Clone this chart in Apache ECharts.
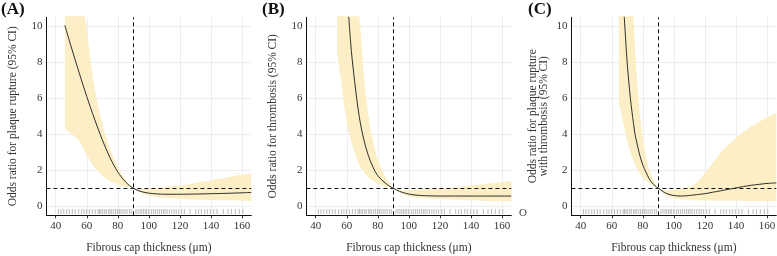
<!DOCTYPE html>
<html><head><meta charset="utf-8">
<script src="https://cdn.jsdelivr.net/npm/echarts@6/dist/echarts.min.js"></script>
<style>html,body{margin:0;padding:0;background:#fff}#c{width:777px;height:256px}</style>
</head><body><div id="c"></div>
<script>
// ---------- data ----------
const panelLabels = ['(A)', '(B)', '(C)'];
const yTitles = [
  'Odds ratio for plaque rupture (95% CI)',
  'Odds ratio for thrombosis (95% CI)',
  'Odds ratio for plaque rupture\nwith thrombosis (95% CI)'
];
const xTitle = 'Fibrous cap thickness (\u03bcm)';
const xTickLabels = [40, 60, 80, 100, 120, 140, 160];
const yTickLabels = [0, 2, 4, 6, 8, 10];
const refX = 90;   // vertical dashed reference
const refY = 1;    // horizontal dashed reference

// Panel A: plaque rupture
const xA   = [45.9, 50, 55, 60, 65, 70, 75, 80, 85, 90, 95, 100, 105, 110, 120, 130, 140, 150, 160, 166];
const fitA = [10.05, 8.85, 7.45, 6.1, 4.85, 3.7, 2.7, 1.9, 1.35, 1.0, 0.82, 0.73, 0.69, 0.67, 0.67, 0.68, 0.7, 0.72, 0.75, 0.77];
const lowA = [4.3, 4.05, 3.65, 2.85, 2.15, 1.7, 1.4, 1.2, 1.07, 1.0, 0.75, 0.6, 0.52, 0.47, 0.42, 0.38, 0.35, 0.33, 0.31, 0.3];
const upA  = [25, 19, 13, 9.8, 6.6, 4.6, 3.2, 2.2, 1.5, 1.0, 0.95, 0.98, 1.02, 1.07, 1.15, 1.3, 1.45, 1.6, 1.75, 1.82];

// Panel B: thrombosis
const xB   = [53.7, 56, 58, 60, 61.2, 63, 65, 68, 71, 74, 77, 80, 84, 87, 90, 94, 98, 102, 106, 110, 120, 130, 140, 150, 160, 166];
const fitB = [null, null, null, null, 10.6, 8.6, 7.0, 5.0, 3.7, 2.8, 2.15, 1.7, 1.35, 1.15, 1.0, 0.83, 0.72, 0.65, 0.61, 0.59, 0.57, 0.57, 0.57, 0.57, 0.57, 0.57];
const lowB = [8.6, 7.2, 5.8, 4.7, 4.2, 3.6, 3.0, 2.3, 1.9, 1.6, 1.4, 1.25, 1.12, 1.05, 1.0, 0.76, 0.6, 0.52, 0.47, 0.45, 0.4, 0.36, 0.33, 0.3, 0.28, 0.27];
const upB  = [16, 15, 14, 13, 12.5, 12, 11.5, 10.6, 7.3, 5.0, 3.6, 2.6, 1.8, 1.35, 1.0, 0.9, 0.88, 0.9, 0.93, 0.95, 1.0, 1.05, 1.15, 1.25, 1.35, 1.4];

// Panel C: plaque rupture with thrombosis
const xC   = [64.5, 66, 68, 70, 72, 74, 75, 76.5, 78, 80, 82, 84, 86, 88, 90, 95, 100, 105, 110, 113, 116, 120, 125, 130, 135, 140, 145, 150, 155, 160, 166];
const fitC = [null, null, 10.6, 7.9, 6.0, 4.6, 4.0, 3.4, 2.85, 2.3, 1.9, 1.55, 1.3, 1.13, 1.0, 0.72, 0.6, 0.57, 0.6, 0.63, 0.66, 0.7, 0.78, 0.86, 0.94, 1.02, 1.1, 1.17, 1.22, 1.27, 1.3];
const lowC = [5.8, 5.2, 4.4, 3.6, 3.0, 2.5, 2.3, 2.05, 1.85, 1.62, 1.45, 1.3, 1.2, 1.1, 1.0, 0.6, 0.45, 0.38, 0.35, 0.33, 0.32, 0.32, 0.31, 0.31, 0.31, 0.31, 0.3, 0.3, 0.3, 0.3, 0.3];
const upC  = [20, 18, 16, 14.5, 12.5, 10.6, 8.8, 6.8, 5.2, 3.8, 2.8, 2.1, 1.6, 1.25, 1.0, 0.88, 0.92, 0.98, 1.08, 1.2, 1.45, 1.85, 2.4, 2.95, 3.4, 3.8, 4.15, 4.45, 4.7, 4.95, 5.2];

// rug of observed fibrous cap thickness values
const rugX = [41.7, 43.4, 45.2, 47.1, 48.8, 50.7, 52.5, 54.8, 56.7, 58.2, 59.8, 61.7, 63.6, 65.5, 67.3, 68.2, 69.2, 70.3, 71.6, 72.6, 74.1, 75.0, 76.1, 77.4, 78.6, 79.8, 81.0, 82.1, 83.4, 84.7, 86.0, 87.5, 88.7, 91.7, 93.0, 94.3, 95.4, 96.5, 97.6, 98.6, 99.9, 101.6, 102.9, 104.2, 105.5, 106.8, 108.1, 109.3, 110.4, 111.7, 113.2, 114.8, 116.2, 117.6, 119.2, 121.2, 122.9, 126.5, 130.2, 132.1, 133.8, 136.0, 137.7, 139.6, 141.8, 143.9, 148.0, 151.0, 153.2, 155.7, 158.3, 160.5];

// ---------- layout ----------
const FONT = '"Liberation Serif", "Times New Roman", serif';
const gridLefts = [46.4, 306.4, 571.4];
const GW = 204.9, GT = 17.3, GH = 198;
const XMIN = 34, XMAX = 166, YMIN = -0.5, YMAX = 10.5;
const BAND = '#fcefc6';
const panels = [
  {x: xA, fit: fitA, low: lowA, up: upA},
  {x: xB, fit: fitB, low: lowB, up: upB},
  {x: xC, fit: fitC, low: lowC, up: upC}
];

const grids = [], xAxes = [], yAxes = [], series = [];
panels.forEach((p, i) => {
  grids.push({left: gridLefts[i], top: GT, width: GW, height: GH, containLabel: false, outerBoundsMode: 'none'});
  xAxes.push({
    type: 'value', gridIndex: i, min: XMIN, max: XMAX, minInterval: 20, maxInterval: 20,
    name: xTitle, nameLocation: 'middle', nameGap: 27,
    nameTextStyle: {fontFamily: FONT, fontSize: 11.5, color: '#333', verticalAlign: 'top'},
    axisLine: {show: true, onZero: false, lineStyle: {color: '#111', width: 1}},
    axisTick: {show: true, length: 3, lineStyle: {color: '#333'}},
    axisLabel: {fontFamily: FONT, fontSize: 11, color: '#333', margin: 5, showMinLabel: false, showMaxLabel: false,
      formatter: v => xTickLabels.includes(v) ? String(v) : ''},
    splitLine: {show: true, showMinLine: false, showMaxLine: false, lineStyle: {color: '#e8e8e8', width: 0.8}}
  });
  yAxes.push({
    type: 'value', gridIndex: i, min: YMIN, max: YMAX, minInterval: 2, maxInterval: 2,
    name: yTitles[i], nameLocation: 'middle', nameGap: i === 2 ? 22 : 28, nameRotate: 90,
    nameTextStyle: {fontFamily: FONT, fontSize: 11.5, color: '#333', lineHeight: 11, verticalAlign: 'bottom'},
    axisLine: {show: true, onZero: false, lineStyle: {color: '#111', width: 1}},
    axisTick: {show: false},
    axisLabel: {fontFamily: FONT, fontSize: 11, color: '#333', margin: 4, showMinLabel: false, showMaxLabel: false,
      formatter: v => yTickLabels.includes(v) ? String(v) : ''},
    splitLine: {show: true, showMinLine: false, showMaxLine: false, lineStyle: {color: '#e8e8e8', width: 0.8}}
  });
  series.push({
    type: 'scatter', xAxisIndex: i, yAxisIndex: i, symbol: 'rect', symbolSize: [1, 5],
    itemStyle: {color: '#a9a9a9'}, silent: true, z: 1,
    data: rugX.map(v => [v, -0.29])
  });
  // band: stacked by index; value column first so that the y dimension is the stacked one
  series.push({
    type: 'line', xAxisIndex: i, yAxisIndex: i, stack: 'band' + i, symbol: 'none', smooth: 0.3,
    lineStyle: {opacity: 0}, silent: true, z: 2,
    dimensions: ['v', 'x'], encode: {x: 1, y: 0},
    data: p.x.map((v, k) => [p.low[k], v])
  });
  series.push({
    type: 'line', xAxisIndex: i, yAxisIndex: i, stack: 'band' + i, symbol: 'none', smooth: 0.3,
    lineStyle: {opacity: 0}, areaStyle: {color: BAND, opacity: 1}, silent: true, z: 2,
    dimensions: ['v', 'x'], encode: {x: 1, y: 0},
    data: p.x.map((v, k) => [p.up[k] - p.low[k], v])
  });
  series.push({
    type: 'line', xAxisIndex: i, yAxisIndex: i, symbol: 'none', smooth: 0.3, z: 4,
    lineStyle: {color: '#2e2e2e', width: 1},
    data: p.x.map((v, k) => [v, p.fit[k]]).filter(d => d[1] !== null),
    markLine: {
      silent: true, symbol: 'none', label: {show: false}, z: 3,
      lineStyle: {color: '#111', type: [4, 3], width: 1},
      data: [{xAxis: refX}, {yAxis: refY}]
    }
  });
});

const graphic = [
  {type: 'text', left: 1, top: 1, style: {text: panelLabels[0], font: 'bold 17px ' + FONT, fill: '#111'}},
  {type: 'text', left: 262, top: 1, style: {text: panelLabels[1], font: 'bold 17px ' + FONT, fill: '#111'}},
  {type: 'text', left: 528, top: 1, style: {text: panelLabels[2], font: 'bold 17px ' + FONT, fill: '#111'}},
  {type: 'text', left: 519, top: 208, style: {text: 'O', font: '11px ' + FONT, fill: '#444'}}
];

const chart = echarts.init(document.getElementById('c'), null, {renderer: 'canvas'});
chart.setOption({
  animation: false, backgroundColor: '#fff',
  grid: grids, xAxis: xAxes, yAxis: yAxes, series: series, graphic: graphic
});
</script></body></html>
